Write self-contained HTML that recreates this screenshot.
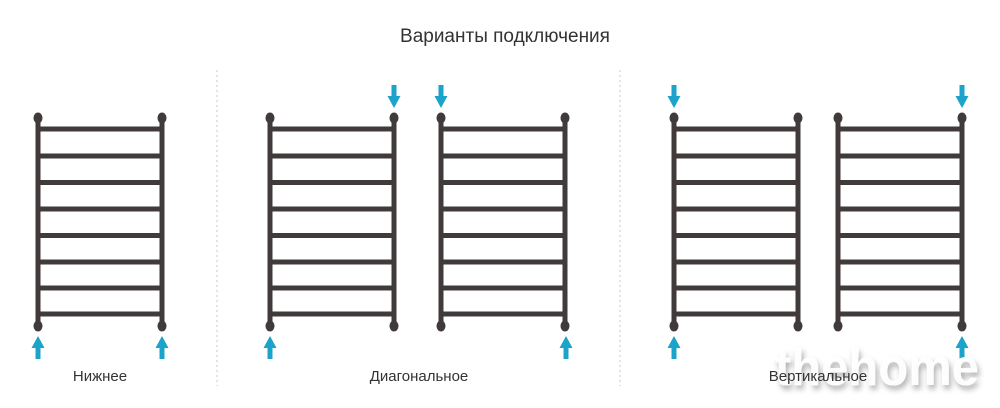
<!DOCTYPE html>
<html><head><meta charset="utf-8"><style>
html,body{margin:0;padding:0;background:#fff;}
svg{display:block;}
text{font-family:"Liberation Sans","DejaVu Sans",sans-serif;}
</style></head><body>
<svg width="1000" height="408" viewBox="0 0 1000 408" xmlns="http://www.w3.org/2000/svg">
<defs>
<g id="rad">
  <rect x="-2.5" y="116" width="5" height="212" fill="#403a3a"/>
  <rect x="121.5" y="116" width="5" height="212" fill="#403a3a"/>
  <ellipse cx="0" cy="118" rx="4.5" ry="5.5" fill="#403a3a"/>
  <ellipse cx="124" cy="118" rx="4.5" ry="5.5" fill="#403a3a"/>
  <ellipse cx="0" cy="326" rx="4.5" ry="5.5" fill="#403a3a"/>
  <ellipse cx="124" cy="326" rx="4.5" ry="5.5" fill="#403a3a"/>
  <g fill="#403a3a">
    <rect x="0" y="126.5" width="124" height="5"/>
    <rect x="0" y="153.5" width="124" height="5"/>
    <rect x="0" y="180" width="124" height="5"/>
    <rect x="0" y="206.5" width="124" height="5"/>
    <rect x="0" y="233" width="124" height="5"/>
    <rect x="0" y="259.5" width="124" height="5"/>
    <rect x="0" y="285.5" width="124" height="5"/>
    <rect x="0" y="311.5" width="124" height="5"/>
  </g>
</g>
<g id="down"><rect x="-2.5" y="85" width="5" height="13" fill="#1ca3c9"/><polygon points="-6.5,96 6.5,96 0,108" fill="#1ca3c9"/></g>
<g id="up"><rect x="-2.5" y="346" width="5" height="13" fill="#1ca3c9"/><polygon points="-6.5,348 6.5,348 0,336" fill="#1ca3c9"/></g>
<filter id="sh" x="-10%" y="-30%" width="130%" height="170%"><feDropShadow dx="2" dy="4" stdDeviation="3" flood-color="#000" flood-opacity="0.35"/></filter>
</defs>
<text x="505" y="42" font-size="19" fill="#333" text-anchor="middle">Варианты подключения</text>
<line x1="217" y1="70" x2="217" y2="386" stroke="#c8c8c8" stroke-width="1" stroke-dasharray="2,3"/>
<line x1="620" y1="70" x2="620" y2="386" stroke="#c8c8c8" stroke-width="1" stroke-dasharray="2,3"/>
<use href="#rad" x="38"/>
<use href="#rad" x="270"/>
<use href="#rad" x="441"/>
<use href="#rad" x="674"/>
<use href="#rad" x="838"/>
<use href="#up" x="38"/><use href="#up" x="162"/>
<use href="#up" x="270"/><use href="#down" x="394"/>
<use href="#down" x="441"/><use href="#up" x="566"/>
<use href="#down" x="674"/><use href="#up" x="674"/>
<use href="#down" x="962"/><use href="#up" x="962"/>
<text x="877" y="385" font-size="52" font-weight="bold" fill="#fff" fill-opacity="0.92" text-anchor="middle" textLength="204" lengthAdjust="spacingAndGlyphs" filter="url(#sh)">thehome</text>
<text x="100" y="381" font-size="15" fill="#333" text-anchor="middle">Нижнее</text>
<text x="419" y="381" font-size="15" fill="#333" text-anchor="middle">Диагональное</text>
<text x="818" y="381" font-size="15" fill="#333" text-anchor="middle">Вертикальное</text>
</svg>
</body></html>
